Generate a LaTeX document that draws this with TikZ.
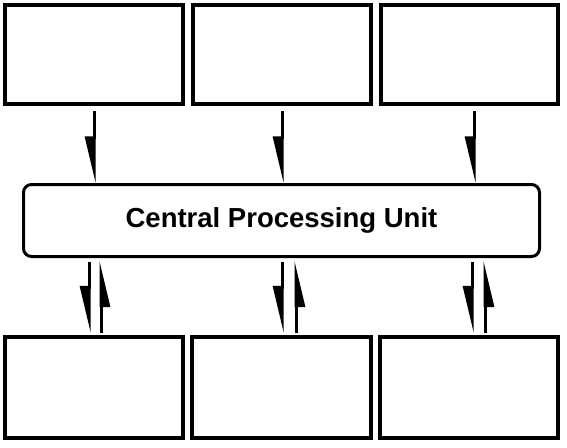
\documentclass[tikz,border=0pt]{standalone}
\usepackage{fontspec}
\setmainfont{Liberation Sans}
\usetikzlibrary{arrows.meta}
\begin{document}
\begin{tikzpicture}[x=1pt,y=-1pt,
  box/.style={draw,line width=4pt,inner sep=0pt},
  cpubox/.style={draw,line width=3pt,rounded corners=8pt,inner sep=0pt,font=\bfseries\fontsize{27.5}{32}\selectfont},
  harr/.style={line width=3pt,-{Triangle[harpoon,swap,length=40pt,width=18pt]}}]
\useasboundingbox (0,0) rectangle (567,447);
\node[box,minimum width=178pt,minimum height=99pt] (t1) at (94,54.5) {};
\node[box,minimum width=178pt,minimum height=99pt] (t2) at (282,54.5) {};
\node[box,minimum width=177pt,minimum height=99pt] (t3) at (469.5,54.5) {};
\node[box,minimum width=178pt,minimum height=101pt] (b1) at (94,387.5) {};
\node[box,minimum width=179pt,minimum height=101pt] (b2) at (281.5,387.5) {};
\node[box,minimum width=178pt,minimum height=101pt] (b3) at (469,387.5) {};
\node[cpubox,minimum width=516pt,minimum height=72pt] (cpu) at (281.5,220.5) {Central Processing Unit};
% top arrows
\draw[harr] ([yshift=-5pt]t1.south) -- ([yshift=0pt]t1.south |- cpu.north);
\draw[harr] ([yshift=-5pt]t2.south) -- ([yshift=0pt]t2.south |- cpu.north);
\draw[harr] ([xshift=4.5pt,yshift=-5pt]t3.south) -- ([xshift=4.5pt,yshift=0pt]t3.south |- cpu.north);
% bottom arrows
\draw[harr] ([xshift=-5pt,yshift=-4pt]b1.north |- cpu.south) -- ([xshift=-5pt,yshift=2.5pt]b1.north);
\draw[harr] ([xshift=7pt,yshift=2.5pt]b1.north) -- ([xshift=7pt,yshift=-2.5pt]b1.north |- cpu.south);
\draw[harr] ([xshift=0.5pt,yshift=-4pt]b2.north |- cpu.south) -- ([xshift=0.5pt,yshift=2.5pt]b2.north);
\draw[harr] ([xshift=14.5pt,yshift=2.5pt]b2.north) -- ([xshift=14.5pt,yshift=-2.5pt]b2.north |- cpu.south);
\draw[harr] ([xshift=3pt,yshift=-4pt]b3.north |- cpu.south) -- ([xshift=3pt,yshift=2.5pt]b3.north);
\draw[harr] ([xshift=16pt,yshift=2.5pt]b3.north) -- ([xshift=16pt,yshift=-2.5pt]b3.north |- cpu.south);
\end{tikzpicture}
\end{document}
